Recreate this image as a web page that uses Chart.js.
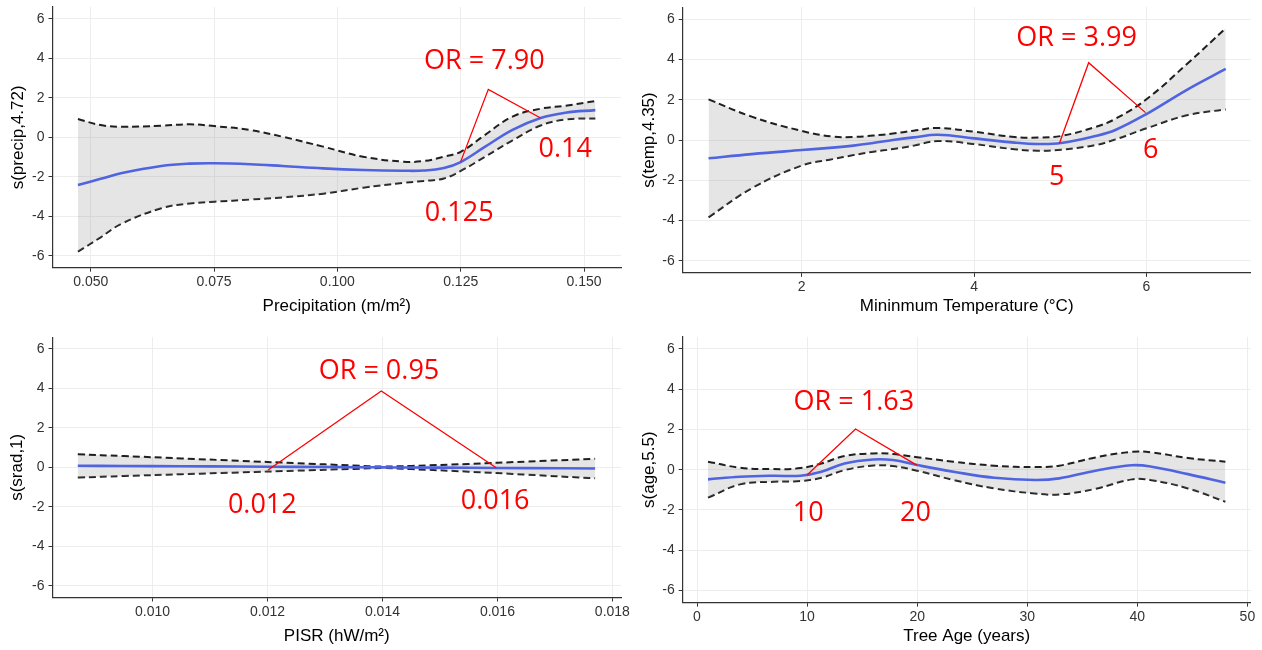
<!DOCTYPE html>
<html><head><meta charset="utf-8">
<script src="https://cdn.jsdelivr.net/npm/chart.js@4.4.0/dist/chart.umd.min.js"></script>
<style>
html,body{margin:0;padding:0;background:#fff;width:1262px;height:650px;overflow:hidden;}
canvas{position:absolute;}
</style></head><body>
<canvas id="c1" width="631" height="325" style="left:0;top:0"></canvas>
<canvas id="c2" width="631" height="325" style="left:631px;top:0"></canvas>
<canvas id="c3" width="631" height="325" style="left:0;top:325px"></canvas>
<canvas id="c4" width="631" height="325" style="left:631px;top:325px"></canvas>
<script>
// ---------- shared tick values ----------
const yTicks = [-6, -4, -2, 0, 2, 4, 6];
const yTickLabels = ['-6', '-4', '-2', '0', '2', '4', '6'];

// ---------- Panel 1: precipitation ----------
const precipX     = [0.0474,0.0520,0.0561,0.0643,0.0700,0.0750,0.0823,0.0889,0.0971,0.1052,0.1134,0.1175,0.1216,0.1250,0.1298,0.1355,0.1412,0.1462,0.1523];
const precipFit   = [-2.41,-2.10,-1.82,-1.45,-1.33,-1.31,-1.36,-1.45,-1.57,-1.65,-1.69,-1.68,-1.55,-1.25,-0.50,0.38,0.98,1.25,1.38];
const precipUpper = [0.93,0.62,0.54,0.59,0.66,0.57,0.37,0.03,-0.47,-0.98,-1.23,-1.20,-0.98,-0.73,0.10,1.05,1.45,1.60,1.84];
const precipLower = [-5.79,-5.06,-4.39,-3.59,-3.35,-3.26,-3.15,-3.04,-2.85,-2.55,-2.30,-2.21,-2.08,-1.70,-1.00,-0.15,0.60,0.90,0.96];
const precipTicks = [0.050, 0.075, 0.100, 0.125, 0.150];
const precipTickLabels = ['0.050', '0.075', '0.100', '0.125', '0.150'];
const precipOrX = [0.125, 0.1306, 0.1412];
const precipOrY = [-1.23, 2.43, 0.98];
const precipNotes  = ['OR = 7.90', '0.14', '0.125'];
const precipNoteX  = [0.1298, 0.1462, 0.1247];
const precipNoteY  = [3.83, -0.61, -3.85];

// ---------- Panel 2: minimum temperature ----------
const tempX     = [0.92,1.42,2.00,2.36,2.60,2.83,3.06,3.30,3.58,4.00,4.47,4.75,5.01,5.41,5.64,6.00,6.48,6.92];
const tempFit   = [-0.91,-0.70,-0.50,-0.38,-0.28,-0.15,0.00,0.13,0.26,0.08,-0.13,-0.20,-0.15,0.20,0.50,1.29,2.52,3.53];
const tempUpper = [2.02,1.16,0.45,0.17,0.15,0.22,0.32,0.46,0.60,0.41,0.15,0.12,0.20,0.65,1.05,2.02,3.81,5.55];
const tempLower = [-3.84,-2.40,-1.27,-0.95,-0.75,-0.58,-0.45,-0.28,-0.05,-0.20,-0.46,-0.53,-0.48,-0.25,0.03,0.58,1.24,1.52];
const tempTicks = [2, 4, 6];
const tempTickLabels = ['2', '4', '6'];
const tempOrX = [4.99, 5.33, 5.99];
const tempOrY = [-0.17, 3.84, 1.36];
const tempNotes = ['OR = 3.99', '5', '6'];
const tempNoteX = [5.19, 4.96, 6.05];
const tempNoteY = [5.05, -1.87, -0.53];

// ---------- Panel 3: PISR ----------
const sradX     = [0.0087,0.0095,0.0105,0.0115,0.0125,0.0135,0.0140,0.0145,0.0155,0.0165,0.0177];
const sradFit   = [0.08,0.068,0.052,0.037,0.021,0.005,-0.003,-0.011,-0.026,-0.042,-0.06];
const sradUpper = [0.66,0.57,0.45,0.33,0.21,0.09,0.04,0.07,0.17,0.29,0.43];
const sradLower = [-0.52,-0.44,-0.35,-0.26,-0.17,-0.08,-0.04,-0.09,-0.22,-0.37,-0.56];
const sradTicks = [0.010, 0.012, 0.014, 0.016, 0.018];
const sradTickLabels = ['0.010', '0.012', '0.014', '0.016', '0.018'];
const sradOrX = [0.01201, 0.01398, 0.01598];
const sradOrY = [-0.14, 3.87, -0.02];
const sradNotes = ['OR = 0.95', '0.012', '0.016'];
const sradNoteX = [0.01394, 0.01191, 0.01596];
const sradNoteY = [4.88, -1.91, -1.74];

// ---------- Panel 4: tree age ----------
const ageX     = [1.0,3.9,6.9,9.4,11.3,13.4,16.0,17.8,20.0,23.3,27.0,30.7,32.9,36.2,39.5,41.3,44.6,48.0];
const ageFit   = [-0.48,-0.35,-0.30,-0.30,-0.10,0.31,0.51,0.48,0.23,-0.10,-0.40,-0.51,-0.43,-0.05,0.22,0.15,-0.22,-0.65];
const ageUpper = [0.40,0.10,0.03,0.08,0.31,0.68,0.81,0.78,0.62,0.40,0.20,0.13,0.20,0.61,0.89,0.86,0.58,0.40];
const ageLower = [-1.39,-0.73,-0.60,-0.56,-0.40,-0.02,0.21,0.18,-0.05,-0.51,-0.93,-1.18,-1.23,-0.95,-0.48,-0.52,-0.93,-1.59];
const ageTicks = [0, 10, 20, 30, 40, 50];
const ageTickLabels = ['0', '10', '20', '30', '40', '50'];
const ageOrX = [10.0, 14.4, 19.96];
const ageOrY = [-0.26, 2.02, 0.23];
const ageNotes = ['OR = 1.63', '10', '20'];
const ageNoteX = [14.25, 10.1, 19.85];
const ageNoteY = [3.34, -2.17, -2.17];

// ---------- styling ----------
const RED = '#ff0000';
const BLUE = '#5064e0';
const DASH = '#1f1f1f';
const RIBBON = 'rgba(153,153,153,0.25)';
const GRID = '#ededed';
const AXIS_FONT = "'Liberation Sans', Arial, sans-serif";
const NOTE_FONT = "'Open Sans', 'Noto Sans', sans-serif";

const notePlugin = {
  id: 'notes',
  afterDatasetsDraw(chart, args, opts) {
    const {ctx, scales: {x, y}} = chart;
    ctx.save();
    ctx.fillStyle = RED;
    ctx.font = "27px " + NOTE_FONT;
    ctx.textAlign = 'center';
    ctx.textBaseline = 'middle';
    opts.texts.forEach((t, i) => {
      ctx.fillText(t, x.getPixelForValue(opts.xs[i]), y.getPixelForValue(opts.ys[i]));
    });
    ctx.restore();
  }
};

function makePanel(id, d, L) {
  const pts = ys => d.x.map((xv, i) => ({x: xv, y: ys[i]}));
  new Chart(document.getElementById(id), {
    type: 'line',
    data: {datasets: [
      {data: d.orX.map((xv, i) => ({x: xv, y: d.orY[i]})), borderColor: RED, borderWidth: 1.3, tension: 0, pointRadius: 0, fill: false},
      {data: pts(d.fit), borderColor: BLUE, borderWidth: 2.6, pointRadius: 0, tension: 0.4, fill: false},
      {data: pts(d.upper), borderColor: DASH, borderWidth: 2, borderDash: [7, 4], pointRadius: 0, tension: 0.4, fill: '+1', backgroundColor: RIBBON},
      {data: pts(d.lower), borderColor: DASH, borderWidth: 2, borderDash: [7, 4], pointRadius: 0, tension: 0.4, fill: false}
    ]},
    plugins: [notePlugin],
    options: {
      responsive: false, animation: false, events: [],
      layout: {padding: {left: 0, right: L.right, top: L.top, bottom: 0}},
      plugins: {
        legend: {display: false}, tooltip: {enabled: false},
        notes: {texts: d.notes, xs: d.noteX, ys: d.noteY}
      },
      scales: {
        x: {
          type: 'linear', min: d.xMin, max: d.xMax,
          afterBuildTicks: s => { s.ticks = d.xTicks.map(v => ({value: v})); },
          afterFit: s => { s.height = L.xh; s.paddingLeft = 0; s.paddingRight = 0; },
          grid: {color: GRID, lineWidth: 1, tickColor: '#333', tickLength: 4},
          border: {display: true, color: '#333', width: 1.2},
          ticks: {autoSkip: false, maxRotation: 0, padding: 2, color: '#333',
                  font: {family: AXIS_FONT, size: 14},
                  callback: (v, i) => d.xTickLabels[i]},
          title: {display: true, text: d.xTitle, color: '#000',
                  font: {family: AXIS_FONT, size: 17}, padding: {top: 0, bottom: L.xtp}}
        },
        y: {
          type: 'linear', min: -6.6, max: 6.6,
          afterBuildTicks: s => { s.ticks = yTicks.map(v => ({value: v})); },
          afterFit: s => { s.width = L.yw; s.paddingTop = 0; s.paddingBottom = 0; },
          grid: {color: GRID, lineWidth: 1, tickColor: '#333', tickLength: 4},
          border: {display: true, color: '#333', width: 1.2},
          ticks: {autoSkip: false, padding: 4, color: '#333',
                  font: {family: AXIS_FONT, size: 14},
                  callback: (v, i) => yTickLabels[i]},
          title: {display: true, text: d.yTitle, color: '#000',
                  font: {family: AXIS_FONT, size: 17}, padding: {top: L.ytp, bottom: 0}}
        }
      }
    }
  });
}

makePanel('c1', {x: precipX, fit: precipFit, upper: precipUpper, lower: precipLower,
  orX: precipOrX, orY: precipOrY, notes: precipNotes, noteX: precipNoteX, noteY: precipNoteY,
  xTicks: precipTicks, xTickLabels: precipTickLabels, xMin: 0.04224, xMax: 0.1575,
  xTitle: 'Precipitation (m/m²)', yTitle: 's(precip,4.72)'},
  {yw: 52.5, right: 10, top: 7, xh: 57.3, xtp: 8.8, ytp: 7.8});

makePanel('c2', {x: tempX, fit: tempFit, upper: tempUpper, lower: tempLower,
  orX: tempOrX, orY: tempOrY, notes: tempNotes, noteX: tempNoteX, noteY: tempNoteY,
  xTicks: tempTicks, xTickLabels: tempTickLabels, xMin: 0.62, xMax: 7.21,
  xTitle: 'Mininmum Temperature (°C)', yTitle: 's(temp,4.35)'},
  {yw: 51.7, right: 11.3, top: 7.1, xh: 52.1, xtp: 8.8, ytp: 7.8});

makePanel('c3', {x: sradX, fit: sradFit, upper: sradUpper, lower: sradLower,
  orX: sradOrX, orY: sradOrY, notes: sradNotes, noteX: sradNoteX, noteY: sradNoteY,
  xTicks: sradTicks, xTickLabels: sradTickLabels, xMin: 0.00826, xMax: 0.01815,
  xTitle: 'PISR (hW/m²)', yTitle: 's(srad,1)'},
  {yw: 52.5, right: 10, top: 12.1, xh: 52.5, xtp: 3.1, ytp: 6.8});

makePanel('c4', {x: ageX, fit: ageFit, upper: ageUpper, lower: ageLower,
  orX: ageOrX, orY: ageOrY, notes: ageNotes, noteX: ageNoteX, noteY: ageNoteY,
  xTicks: ageTicks, xTickLabels: ageTickLabels, xMin: -1.3, xMax: 50.3,
  xTitle: 'Tree Age (years)', yTitle: 's(age,5.5)'},
  {yw: 51.7, right: 11.3, top: 11.8, xh: 47.4, xtp: 3.1, ytp: 7.8});
</script>
</body></html>
